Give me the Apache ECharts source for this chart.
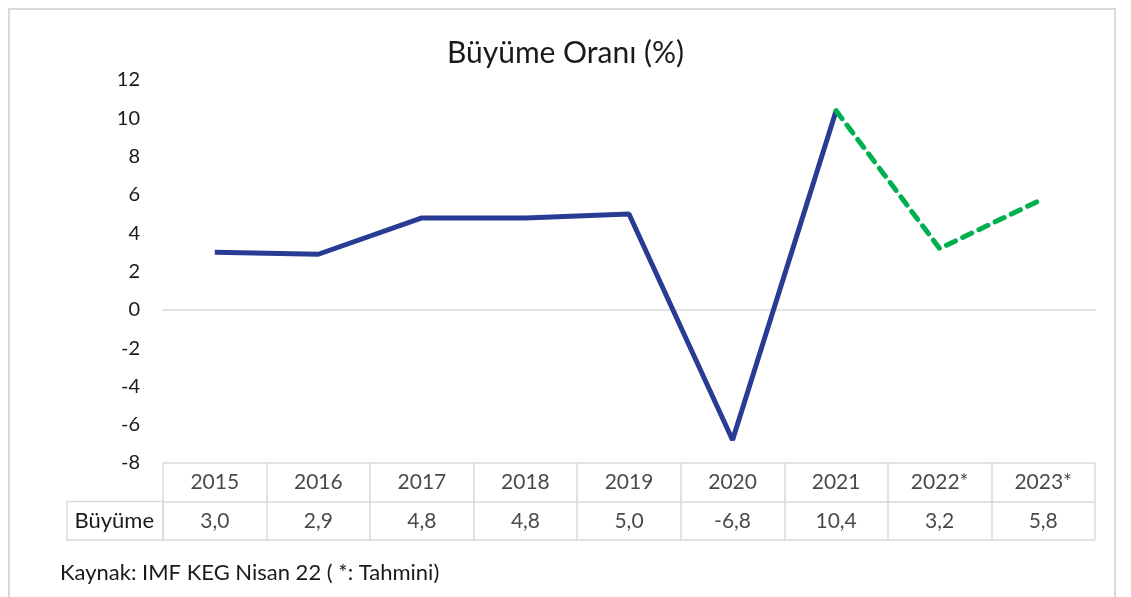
<!DOCTYPE html>
<html>
<head>
<meta charset="utf-8">
<script src="https://cdn.jsdelivr.net/npm/echarts@6/dist/echarts.min.js"></script>
<style>
  html, body { margin: 0; padding: 0; background: #fff; }
  #chart { width: 1131px; height: 597px; }
</style>
</head>
<body>
<div id="chart"></div>
<script>
// veriler
var years = ['2015', '2016', '2017', '2018', '2019', '2020', '2021', '2022*', '2023*'];
var growth = [3.0, 2.9, 4.8, 4.8, 5.0, -6.8, 10.4, 3.2, 5.8];
var actualLast = 6; // 2021'e kadar gerçekleşen, sonrası tahmin
var rowNames = ['Büyüme', 'Yıl'];

var FONT = 'Lato';
var GRID = '#d9d9d9';

var actual = growth.map(function (v, i) { return i <= actualLast ? v : null; });
var forecast = growth.map(function (v, i) { return i >= actualLast ? v : null; });

function fmt(v) {
    return v.toFixed(1).replace('.', ',');
}

var tableYears = years.map(function (y) { return [y, 'Yıl']; });
var tableVals = growth.map(function (v, i) { return [years[i], 'Büyüme', v]; });

var myChart = echarts.init(document.getElementById('chart'));

var option = {
    animation: false,
    backgroundColor: '#fff',
    title: {
        text: 'Büyüme Oranı (%)',
        left: 'center',
        top: 33,
        textStyle: { fontFamily: FONT, fontSize: 30, fontWeight: 'normal', color: '#1a1a1a' }
    },
    grid: [
        { left: 163, right: 36, top: 80, height: 383 },
        { left: 163, right: 36, top: 463, height: 77 }
    ],
    xAxis: [
        {
            gridIndex: 0,
            type: 'category',
            data: years,
            boundaryGap: true,
            axisLine: { show: true, onZero: true, lineStyle: { color: GRID, width: 1.5 } },
            axisTick: { show: false },
            axisLabel: { show: false },
            splitLine: { show: false }
        },
        {
            gridIndex: 1,
            type: 'category',
            data: years,
            boundaryGap: true,
            axisLine: { show: false },
            axisTick: { show: false },
            axisLabel: { show: false },
            splitLine: { show: true, interval: 0, lineStyle: { color: GRID, width: 1.5 } }
        }
    ],
    yAxis: [
        {
            gridIndex: 0,
            type: 'value',
            min: -8,
            max: 12,
            interval: 2,
            axisLine: { show: false },
            axisTick: { show: false },
            splitLine: { show: false },
            axisLabel: { margin: 23, fontFamily: FONT, fontSize: 20, color: '#1a1a1a' }
        },
        {
            gridIndex: 1,
            type: 'category',
            data: rowNames,
            boundaryGap: true,
            axisLine: { show: false },
            axisTick: { show: false },
            splitLine: { show: true, interval: 0, lineStyle: { color: GRID, width: 1.5 } },
            axisLabel: {
                margin: 9,
                fontFamily: FONT, fontSize: 22, color: '#1a1a1a',
                formatter: function (v) { return v === 'Yıl' ? '' : v; }
            }
        }
    ],
    series: [
        {
            name: 'Büyüme',
            type: 'line',
            xAxisIndex: 0, yAxisIndex: 0,
            data: actual,
            showSymbol: false,
            lineStyle: { color: '#283c94', width: 5 }
        },
        {
            name: 'Tahmin',
            type: 'line',
            xAxisIndex: 0, yAxisIndex: 0,
            data: forecast,
            showSymbol: false,
            lineStyle: { color: '#00b050', width: 5, type: [10, 8], cap: 'round' }
        },
        {
            type: 'scatter',
            xAxisIndex: 1, yAxisIndex: 1,
            data: tableYears,
            symbolSize: 0,
            label: {
                show: true, position: 'inside',
                fontFamily: FONT, fontSize: 21, color: '#1a1a1a',
                formatter: function (p) { return p.value[0]; }
            }
        },
        {
            type: 'scatter',
            xAxisIndex: 1, yAxisIndex: 1,
            data: tableVals,
            symbolSize: 0,
            label: {
                show: true, position: 'inside',
                fontFamily: FONT, fontSize: 21, color: '#1a1a1a',
                formatter: function (p) { return fmt(p.value[2]); }
            }
        }
    ],
    graphic: [
        {
            type: 'rect',
            shape: { x: 9, y: 9, width: 1106, height: 620 },
            style: { fill: 'none', stroke: GRID, lineWidth: 2 },
            silent: true
        },
        {
            type: 'rect',
            shape: { x: 67, y: 501.5, width: 96, height: 38.5 },
            style: { fill: 'none', stroke: GRID, lineWidth: 1.5 },
            silent: true
        },
        {
            type: 'text',
            left: 60,
            top: 562,
            style: {
                text: 'Kaynak: IMF KEG Nisan 22 ( *: Tahmini)',
                font: '22px ' + FONT,
                fill: '#1a1a1a'
            }
        }
    ]
};

myChart.setOption(option);
</script>
</body>
</html>
